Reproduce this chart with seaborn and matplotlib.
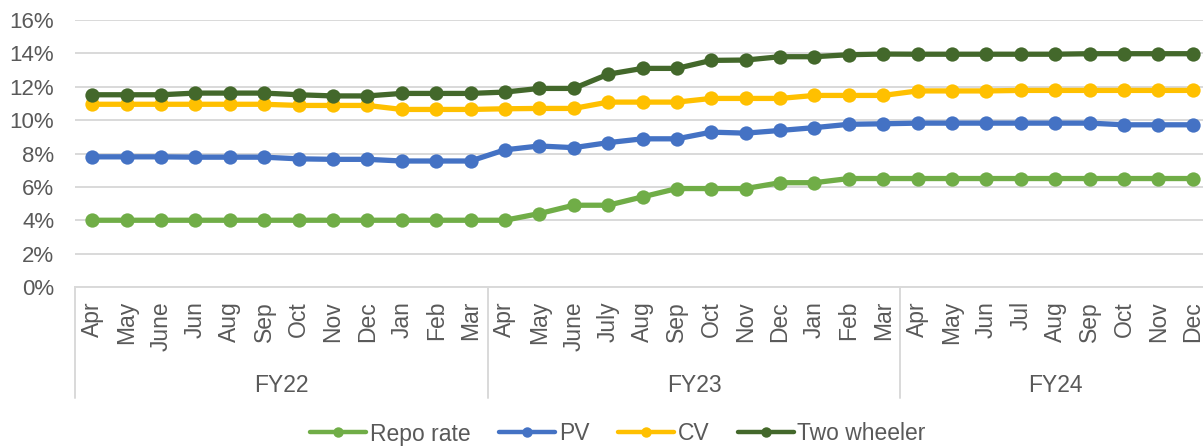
import seaborn as sns
import numpy as np
import matplotlib.pyplot as plt
import matplotlib.transforms as mtransforms
from matplotlib.lines import Line2D
import pandas as pd

# month labels per fiscal year
fy22_months = ["Apr", "May", "June", "Jun", "Aug", "Sep", "Oct", "Nov", "Dec", "Jan", "Feb", "Mar"]
fy23_months = ["Apr", "May", "June", "July", "Aug", "Sep", "Oct", "Nov", "Dec", "Jan", "Feb", "Mar"]
fy24_months = ["Apr", "May", "Jun", "Jul", "Aug", "Sep", "Oct", "Nov", "Dec"]
years = ["FY22", "FY23", "FY24"]

# rates in %
repo_rate = [4.0, 4.0, 4.0, 4.0, 4.0, 4.0, 4.0, 4.0, 4.0, 4.0, 4.0, 4.0,
             4.0, 4.4, 4.9, 4.9, 5.4, 5.9, 5.9, 5.9, 6.25, 6.25, 6.5, 6.5,
             6.5, 6.5, 6.5, 6.5, 6.5, 6.5, 6.5, 6.5, 6.5]
pv = [7.8, 7.8, 7.8, 7.78, 7.78, 7.78, 7.68, 7.65, 7.65, 7.55, 7.55, 7.55,
      8.22, 8.45, 8.35, 8.65, 8.88, 8.88, 9.28, 9.22, 9.38, 9.55, 9.75, 9.78,
      9.82, 9.82, 9.82, 9.82, 9.82, 9.82, 9.72, 9.72, 9.72]
cv = [10.95, 10.95, 10.95, 10.95, 10.95, 10.95, 10.88, 10.88, 10.88, 10.64, 10.64, 10.64,
      10.68, 10.7, 10.7, 11.08, 11.08, 11.08, 11.3, 11.3, 11.3, 11.48, 11.48, 11.48,
      11.75, 11.75, 11.75, 11.78, 11.78, 11.78, 11.78, 11.78, 11.78]
two_wheeler = [11.52, 11.52, 11.52, 11.62, 11.62, 11.62, 11.52, 11.45, 11.45, 11.6, 11.6, 11.6,
               11.68, 11.9, 11.9, 12.75, 13.1, 13.1, 13.58, 13.6, 13.8, 13.8, 13.92, 13.96,
               13.95, 13.95, 13.95, 13.95, 13.95, 13.98, 13.98, 13.98, 13.98]

series = {"Repo rate": repo_rate, "PV": pv, "CV": cv, "Two wheeler": two_wheeler}
palette = {"Repo rate": "#70AD47", "PV": "#4472C4", "CV": "#FFC000", "Two wheeler": "#43682B"}

months = fy22_months + fy23_months + fy24_months
groups = [len(fy22_months), len(fy23_months), len(fy24_months)]

df = pd.DataFrame(series)
df["idx"] = np.arange(len(months))
df = df.melt(id_vars="idx", var_name="series", value_name="rate")

sns.set_style("white")
plt.rcParams["font.family"] = ["Liberation Sans", "DejaVu Sans"]
text_col = "#595959"
grid_col = "#D9D9D9"

fig = plt.figure(figsize=(12.03, 4.46), dpi=100)
ax = fig.add_axes([75 / 1203, 159 / 446, 1135 / 1203, 267 / 446])

sns.lineplot(data=df, x="idx", y="rate", hue="series", palette=palette,
             marker="o", markersize=10.3, markeredgewidth=0, linewidth=3.8,
             legend=False, ax=ax)

ax.set_xlim(-0.5, len(months) - 0.5)
ax.set_ylim(0, 16)
ax.set_yticks(range(0, 17, 2))
ax.set_yticklabels([f"{v}%" for v in range(0, 17, 2)], fontsize=16, color=text_col)
ax.yaxis.grid(True, color=grid_col, linewidth=1.4)
ax.set_axisbelow(True)
for s in ["left", "right", "top"]:
    ax.spines[s].set_visible(False)
ax.spines["bottom"].set_color(grid_col)
ax.spines["bottom"].set_linewidth(1.4)

ax.set_xticks(range(len(months)))
ax.set_xticklabels(months, rotation=90, fontsize=16.5, color=text_col)
ax.tick_params(axis="x", length=0, pad=10)
ax.tick_params(axis="y", length=0, pad=15)
ax.set_xlabel("")
ax.set_ylabel("")

# fiscal year level of the axis
trans = mtransforms.blended_transform_factory(ax.transData, ax.transAxes)
start = 0
for name, n in zip(years, groups):
    ax.plot([start - 0.5, start - 0.5], [0, -0.416], transform=trans,
            color=grid_col, linewidth=1.4, clip_on=False)
    ax.text(start + (n - 1) / 2, -0.368, name, transform=trans, ha="center", va="center",
            fontsize=16.5, color=text_col)
    start += n

handles = [Line2D([], [], color=palette[k], linewidth=3.2, marker="o",
                  markersize=7.5, markeredgewidth=0) for k in series]
fig.legend(handles, list(series.keys()), loc="center", bbox_to_anchor=(618 / 1203, 12 / 446),
           ncol=4, frameon=False, fontsize=16.5, labelcolor=text_col,
           handlelength=2.45, handletextpad=0.15, columnspacing=1.25, borderaxespad=0)

fig.savefig("out.png", dpi=100)
